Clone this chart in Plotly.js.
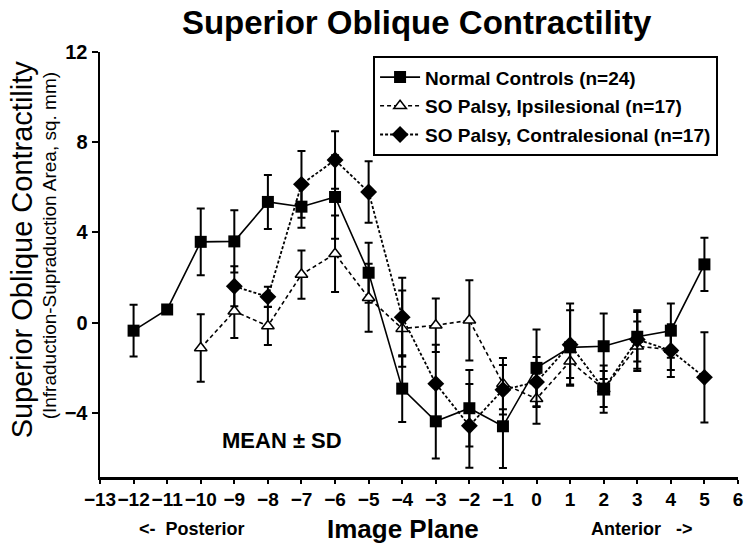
<!DOCTYPE html>
<html>
<head>
<meta charset="utf-8">
<script src="https://cdn.plot.ly/plotly-3.0.1.min.js"></script>
<style>html,body{margin:0;padding:0;background:#fff;}#chart{width:748px;height:549px;}</style>
</head>
<body>
<div id="chart"></div>
<script>
// Image planes for each series
const normalPlanes = [-12,-11,-10,-9,-8,-7,-6,-5,-4,-3,-2,-1,0,1,2,3,4,5];
const normalMean   = [-0.36,0.58,3.58,3.60,5.35,5.14,5.57,2.21,-2.93,-4.38,-3.80,-4.60,-2.01,-1.10,-1.05,-0.63,-0.36,2.58];
const normalSD     = [1.15,null,1.48,1.38,1.20,0.94,1.85,1.33,1.48,1.65,1.70,1.85,1.70,1.65,1.45,1.10,1.20,1.18];

const ipsiPlanes = [-10,-9,-8,-7,-6,-5,-4,-3,-2,-1,0,1,2,3,4];
const ipsiMean   = [-1.13,0.50,-0.15,2.13,3.05,1.10,-0.27,-0.12,0.10,-2.71,-3.38,-1.72,-2.95,-1.05,-1.20];
const ipsiSD     = [1.50,1.18,0.85,1.07,1.70,1.51,1.69,1.19,1.78,1.14,1.11,0.74,0.80,1.10,0.90];

const contraPlanes = [-9,-8,-7,-6,-5,-4,-3,-2,-1,0,1,2,3,4,5];
const contraMean   = [1.61,1.14,6.13,7.21,5.79,0.24,-2.71,-4.58,-2.98,-2.64,-0.98,-2.95,-0.75,-1.24,-2.43];
const contraSD     = [0.89,0.45,1.48,1.27,1.36,1.75,1.73,1.86,1.10,1.11,1.82,1.05,1.30,1.17,2.00];

const seriesNames = ["Normal Controls (n=24)", "SO Palsy, Ipsilesional (n=17)", "SO Palsy, Contralesional (n=17)"];
const xTickVals = [-13,-12,-11,-10,-9,-8,-7,-6,-5,-4,-3,-2,-1,0,1,2,3,4,5,6];
const yTickVals = [-4,0,4,8,12];

const FONT = "Liberation Sans, Arial, Helvetica, sans-serif";
const errStyle = (arr) => ({type:'data', array:arr, visible:true, color:'#000', thickness:2, width:4});

const contraSymbols = contraPlanes.map(p => p === 2 ? 'square' : 'diamond');

const traces = [
  {
    x: normalPlanes, y: normalMean, name: seriesNames[0], type: 'scatter', mode: 'lines+markers',
    line: {color:'#000', width:1.6},
    marker: {symbol:'square', size:12, color:'#000'},
    error_y: errStyle(normalSD), legendgroup:'a'
  },
  {
    x: ipsiPlanes, y: ipsiMean, name: seriesNames[1], type: 'scatter', mode: 'lines+markers',
    line: {color:'#000', width:1.6, dash:'4px,3px'},
    marker: {symbol:'triangle-up', size:11, color:'#fff', line:{color:'#000', width:1.5}},
    error_y: errStyle(ipsiSD), legendgroup:'b'
  },
  {
    x: contraPlanes, y: contraMean, name: seriesNames[2], type: 'scatter', mode: 'lines+markers',
    line: {color:'#000', width:1.8, dash:'3px,2px'},
    marker: {symbol:contraSymbols, size:13, color:'#000'},
    error_y: errStyle(contraSD), legendgroup:'c'
  }
];

const layout = {
  width: 748, height: 549,
  paper_bgcolor:'#fff', plot_bgcolor:'#fff',
  margin: {l:100, r:10, t:52, b:72, pad:0},
  font: {family: FONT, color:'#000'},
  title: {text:'<b>Superior Oblique Contractility</b>', font:{size:33, family:FONT, color:'#000'},
          xref:'container', x:0.557, xanchor:'center', yref:'container', y:0.96, yanchor:'middle'},
  showlegend: true,
  legend: {
    x: 0.428, y: 0.99, xanchor:'left', yanchor:'top',
    bordercolor:'#000', borderwidth:2, bgcolor:'#fff',
    font:{size:19, family:FONT, color:'#000', weight:'bold'},
    itemwidth: 40, tracegroupgap: 1, traceorder:'grouped'
  },
  xaxis: {
    range:[-13, 6], tickmode:'array', tickvals:xTickVals, tickangle:0,
    showgrid:false, zeroline:false, showline:true, linecolor:'#000', linewidth:2.5,
    ticks:'outside', ticklen:4, tickwidth:2, tickcolor:'#000',
    tickfont:{size:19, family:FONT, color:'#000', weight:'bold'}
  },
  yaxis: {
    range:[-6.85, 12], tickmode:'array', tickvals:yTickVals,
    showgrid:false, zeroline:false, showline:true, linecolor:'#000', linewidth:2.5,
    ticks:'outside', ticklen:6, tickwidth:2, tickcolor:'#000',
    tickfont:{size:20, family:FONT, color:'#000', weight:'bold'}
  },
  annotations: [
    {text:'Superior Oblique Contractility', xref:'paper', yref:'paper', x:-0.122, y:0.536,
     textangle:-90, showarrow:false, xanchor:'center', yanchor:'middle', font:{size:29, family:FONT, color:'#000'}},
    {text:'(Infraduction-Supraduction Area, sq. mm)', xref:'paper', yref:'paper', x:-0.08, y:0.545,
     textangle:-90, showarrow:false, xanchor:'center', yanchor:'middle', font:{size:19, family:FONT, color:'#000'}},
    {text:'<b>Image Plane</b>', xref:'paper', yref:'paper', x:(403-100)/638, y:(477-529)/425,
     showarrow:false, xanchor:'center', yanchor:'middle', font:{size:26, family:FONT, color:'#000'}},
    {text:'<b>&lt;-  Posterior</b>', xref:'paper', yref:'paper', x:(192-100)/638, y:(477-529)/425,
     showarrow:false, xanchor:'center', yanchor:'middle', font:{size:18, family:FONT, color:'#000'}},
    {text:'<b>Anterior &nbsp;&nbsp;-&gt;</b>', xref:'paper', yref:'paper', x:(642-100)/638, y:(477-529)/425,
     showarrow:false, xanchor:'center', yanchor:'middle', font:{size:18, family:FONT, color:'#000'}},
    {text:'<b>MEAN ± SD</b>', xref:'paper', yref:'paper', x:(282-100)/638, y:(477-440)/425,
     showarrow:false, xanchor:'center', yanchor:'middle', font:{size:22, family:FONT, color:'#000'}}
  ]
};

Plotly.newPlot('chart', traces, layout, {displayModeBar:false, staticPlot:true});
</script>
</body>
</html>
